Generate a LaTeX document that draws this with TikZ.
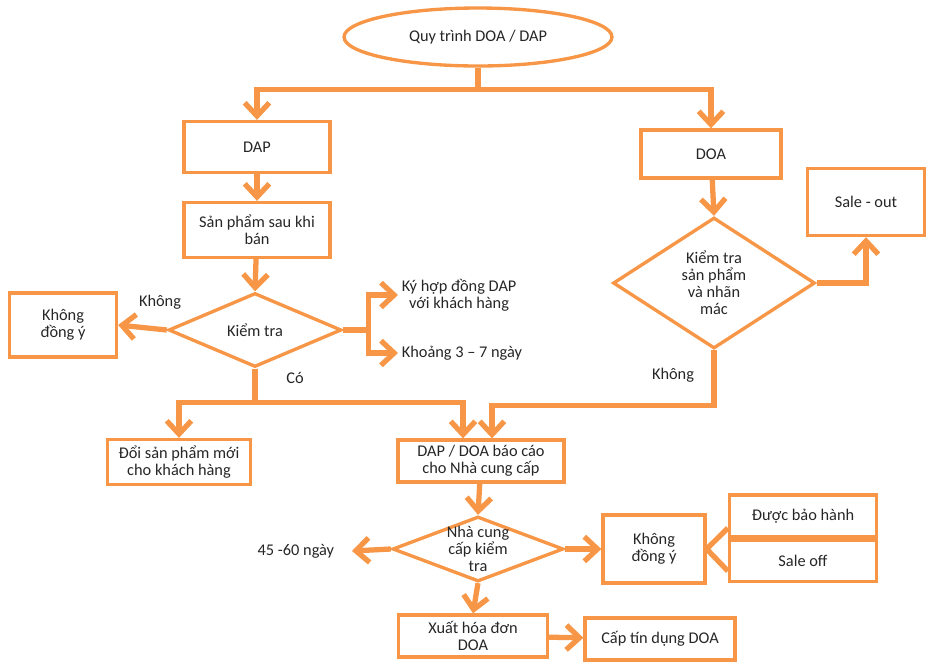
\documentclass[tikz,border=0pt]{standalone}
\usepackage{fontspec}
\setmainfont{Carlito}
\usetikzlibrary{shapes.geometric,arrows.meta}
\definecolor{qorange}{HTML}{F79646}
\definecolor{qtext}{HTML}{262626}

\begin{document}
\begin{tikzpicture}
  [x=0.02cm,y=-0.02cm,
   every node/.style={font=\fontsize{9.3}{9.7}\selectfont,text=qtext,align=center},
   box/.style={draw=qorange,line width=1.9pt,inner sep=2pt},
   decision/.style={diamond,draw=qorange,line width=1.9pt,inner sep=0pt},
   txt/.style={inner sep=2pt},
   conn/.style={draw=qorange,line width=3pt,-{Straight Barb[length=7.5pt,width=14pt]}},
   branch/.style={draw=qorange,line width=3pt}]
  \useasboundingbox (0,0) rectangle (930,667);
  % left column
  \node[ellipse,draw=qorange,line width=1.9pt,minimum width=5.36cm,minimum height=1.16cm] (top) at (478,37) {Quy trình DOA / DAP};
  \node[box,minimum width=2.92cm,minimum height=1.02cm] (dap) at (257,147) {DAP};
  \node[box,minimum width=2.92cm,minimum height=1.1cm] (after) at (257,230) {Sản phẩm sau khi\\bán};
  \node[decision,minimum width=3.46cm,minimum height=1.48cm,label={center:Kiểm tra}] (chk1) at (255,330) {};
  \node[box,minimum width=2.14cm,minimum height=1.28cm] (ko1) at (63,325) {Không\\đồng ý};
  \node[txt,anchor=west] (sign) at (398,295) {Ký hợp đồng DAP\\với khách hàng};
  \node[txt,anchor=west] (days) at (398,353) {Khoảng 3 – 7 ngày};
  \node[box,minimum width=2.86cm,minimum height=0.9cm] (swap) at (179,462) {Đổi sản phẩm mới\\cho khách hàng};
  \node[box,minimum width=3.32cm,minimum height=0.84cm] (report) at (481,461) {DAP / DOA báo cáo\\cho Nhà cung cấp};
  % right column
  \node[box,minimum width=2.8cm,minimum height=0.96cm] (doa) at (711,154) {DOA};
  \node[decision,minimum width=4.04cm,minimum height=2.62cm,label={[align=center]center:Kiểm tra\\sản phẩm\\và nhãn\\mác}] (chk2) at (714,283) {};
  \node[box,minimum width=2.34cm,minimum height=1.34cm] (saleout) at (866,202) {Sale - out};
  % bottom
  \node[decision,minimum width=3.42cm,minimum height=1.3cm,label={[align=center]center:Nhà cung\\cấp kiểm\\tra}] (chk3) at (478,549) {};
  \node[txt,anchor=east,inner xsep=10pt] (d45) at (352,551) {45 -60 ngày};
  \node[box,minimum width=2.04cm,minimum height=1.36cm] (ko2) at (654,549) {Không\\đồng ý};
  \node[box,minimum width=2.94cm,minimum height=0.84cm] (warranty) at (803,516) {Được bảo hành};
  \node[box,minimum width=2.94cm,minimum height=0.82cm] (saleoff) at (803,561) {Sale off};
  \node[box,minimum width=2.98cm,minimum height=0.84cm] (invoice) at (473,636) {Xuất hóa đơn\\DOA};
  \node[box,minimum width=3.0cm,minimum height=0.84cm] (credit) at (660,639) {Cấp tín dụng DOA};
  % labels
  \node[txt] (no1) at (160,302) {Không};
  \node[txt] (yes1) at (295,378) {Có};
  \node[txt] (no2) at (673,375) {Không};
  % connectors
  \draw[conn] (top.south) -- ++(0,22) -| (dap.north);
  \draw[conn] (top.south) -- ++(0,22) -| (doa.north);
  \draw[conn] (dap) -- (after);
  \draw[conn] (after) -- (chk1.north);
  \draw[conn] (chk1.west) -- (ko1.east);
  \draw[conn] (chk1.east) -- ++(25,0) |- (sign.west);
  \draw[conn] (chk1.east) -- ++(25,0) |- (days.west);
  \draw[conn] (chk1.south) -- ++(0,34) -| (swap.north);
  \draw[conn] (chk1.south) -- ++(0,34) -| ([xshift=-0.36cm]report.north);
  \draw[conn] (doa) -- (chk2.north);
  \draw[conn] (chk2.east) -| (saleout.south);
  \draw[conn] (chk2.south) -- ++(0,55) -| ([xshift=0.22cm]report.north);
  \draw[conn] (report) -- (chk3.north);
  \draw[conn] (chk3.west) -- (d45.east);
  \draw[conn] (chk3.east) -- (ko2.west);
  \draw[branch] (ko2.east) -- ([yshift=-0.24cm]warranty.west);
  \draw[branch] (ko2.east) -- ([yshift=-0.2cm]saleoff.west);
  \draw[conn] (chk3.south) -- (invoice.north);
  \draw[conn] (invoice) -- (credit);
\end{tikzpicture}
\end{document}
